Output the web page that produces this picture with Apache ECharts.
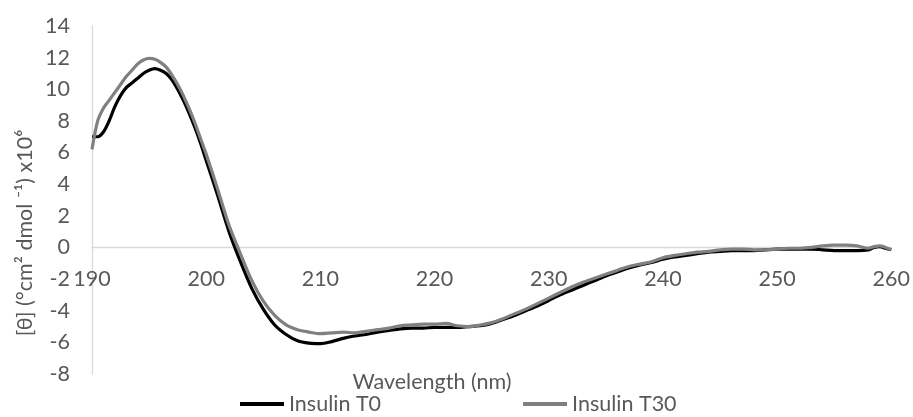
<!DOCTYPE html>
<html>
<head>
<meta charset="utf-8">
<script src="https://cdn.jsdelivr.net/npm/echarts@6/dist/echarts.min.js"></script>
<style>
html,body{margin:0;padding:0;background:#fff;}
#chart{width:913px;height:417px;}
</style>
</head>
<body>
<div id="chart"></div>
<script>
const wavelength = [190,190.5,191,191.5,192,192.5,193,193.5,194,194.5,195,195.5,196,196.5,197,197.5,198,198.5,199,199.5,200,201,202,203,204,205,206,207,208,209,210,211,212,213,214,215,216,217,218,219,220,221,222,223,224,225,226,227,228,229,230,231,232,233,234,235,236,237,238,239,240,241,242,243,244,245,246,247,248,249,250,251,252,253,254,255,256,257,258,258.5,259,259.5,260];
const insulinT0 = [7.0,7.0,7.3,8.0,8.9,9.6,10.1,10.4,10.7,11.0,11.2,11.3,11.2,11.0,10.6,10.0,9.3,8.5,7.6,6.6,5.5,3.3,1.0,-0.9,-2.6,-3.9,-4.9,-5.5,-5.9,-6.05,-6.08,-5.95,-5.75,-5.6,-5.5,-5.35,-5.25,-5.15,-5.1,-5.1,-5.05,-5.05,-5.05,-5.0,-4.95,-4.8,-4.55,-4.3,-4.0,-3.7,-3.35,-3.0,-2.7,-2.4,-2.1,-1.8,-1.55,-1.3,-1.1,-0.95,-0.75,-0.6,-0.5,-0.4,-0.3,-0.25,-0.2,-0.2,-0.2,-0.15,-0.1,-0.1,-0.1,-0.1,-0.15,-0.2,-0.2,-0.2,-0.15,0.0,0.05,-0.05,-0.15];
const insulinT30 = [6.2,8.0,8.8,9.3,9.8,10.3,10.8,11.2,11.6,11.85,11.95,11.9,11.7,11.4,10.9,10.3,9.6,8.8,7.9,6.9,5.9,3.7,1.4,-0.4,-2.1,-3.4,-4.3,-4.9,-5.2,-5.35,-5.45,-5.4,-5.35,-5.4,-5.3,-5.2,-5.1,-4.95,-4.9,-4.85,-4.85,-4.8,-4.95,-5.0,-4.9,-4.75,-4.5,-4.2,-3.9,-3.55,-3.2,-2.85,-2.5,-2.2,-1.95,-1.7,-1.45,-1.2,-1.05,-0.9,-0.65,-0.5,-0.4,-0.3,-0.25,-0.15,-0.1,-0.1,-0.15,-0.15,-0.1,-0.05,-0.05,0.0,0.1,0.15,0.15,0.1,-0.05,0.05,0.1,0.0,-0.15];
const seriesNames = ['Insulin T0','Insulin T30'];
const xTitle = 'Wavelength (nm)';
const yTitle = '[θ] (°cm² dmol ⁻¹) x10⁶';
const yMin = -8, yMax = 14, yStep = 2;
const xMin = 190, xMax = 260, xStep = 10;

const FONT = 'Lato';
const FS = 21.5;
const TXT = '#595959';
const gridTop = 26, gridBottom = 43, H = 417;
const gridH = H - gridTop - gridBottom;
const zeroOffset = -gridH * (0 - yMin) / (yMax - yMin);

const chart = echarts.init(document.getElementById('chart'), null, {renderer:'canvas'});
chart.setOption({
  animation:false,
  backgroundColor:'#fff',
  textStyle:{fontFamily:FONT},
  grid:{left:92,right:21,top:gridTop,bottom:gridBottom,containLabel:false},
  xAxis:{
    type:'value', min:xMin, max:xMax, interval:xStep, position:'bottom', offset:zeroOffset,
    axisLine:{onZero:false,lineStyle:{color:'#d9d9d9',width:1.3}},
    axisTick:{show:false},
    splitLine:{show:false},
    axisLabel:{color:TXT,fontSize:FS,fontFamily:FONT,margin:21}
  },
  yAxis:{
    type:'value', min:yMin, max:yMax, interval:yStep,
    axisLine:{show:true,onZero:false,lineStyle:{color:'#d9d9d9',width:1.3}},
    axisTick:{show:false},
    splitLine:{show:false},
    axisLabel:{color:TXT,fontSize:FS,fontFamily:FONT,margin:22}
  },
  legend:{
    left:240, top:393, padding:0,
    icon:'rect',
    itemWidth:44, itemHeight:4, itemGap:142,
    textStyle:{color:TXT,fontSize:FS,fontFamily:FONT},
    data:seriesNames
  },
  graphic:[
    {type:'text', position:[432,382], style:{text:xTitle, fill:TXT, font:FS+'px '+FONT, textAlign:'center', textVerticalAlign:'middle'}},
    {type:'text', rotation:Math.PI/2, position:[25,233], style:{text:yTitle, fill:TXT, font:FS+'px '+FONT, textAlign:'center', textVerticalAlign:'middle'}}
  ],
  series:[
    {name:seriesNames[0], type:'line', symbol:'none', smooth:0.3, z:2,
     lineStyle:{color:'#000000',width:3.2}, itemStyle:{color:'#000000'},
     data:wavelength.map((w,i)=>[w,insulinT0[i]])},
    {name:seriesNames[1], type:'line', symbol:'none', smooth:0.3, z:3,
     lineStyle:{color:'#808080',width:3.2}, itemStyle:{color:'#808080'},
     data:wavelength.map((w,i)=>[w,insulinT30[i]])}
  ]
});
</script>
</body>
</html>
